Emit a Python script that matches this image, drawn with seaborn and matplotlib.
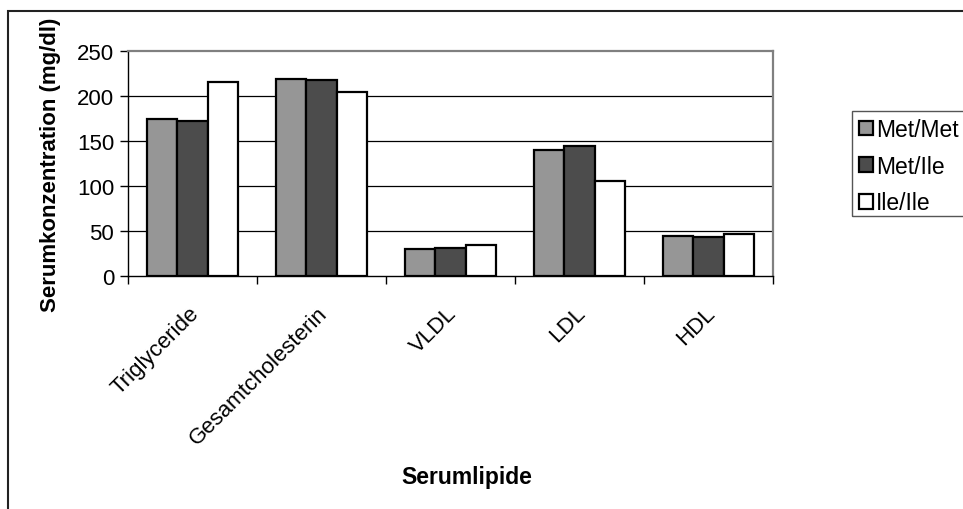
import numpy as np
import pandas as pd
import matplotlib
matplotlib.use("Agg")
import matplotlib.pyplot as plt
import seaborn as sns
from matplotlib.patches import Rectangle
from matplotlib.transforms import ScaledTranslation

# Mean serum lipid concentrations (mg/dl) per genotype
lipide = ["Triglyceride", "Gesamtcholesterin", "VLDL", "LDL", "HDL"]
genotypen = ["Met/Met", "Met/Ile", "Ile/Ile"]
met_met = [175, 219, 30, 140, 45]
met_ile = [172, 218, 31, 144, 43]
ile_ile = [216, 205, 35, 106, 47]
y_ticks = [0, 50, 100, 150, 200, 250]

werte = {"Met/Met": met_met, "Met/Ile": met_ile, "Ile/Ile": ile_ile}
df = pd.DataFrame(
    [(lip, g, werte[g][i]) for g in genotypen for i, lip in enumerate(lipide)],
    columns=["Serumlipide", "Genotyp", "Wert"],
)

sns.set_theme(style="white")
plt.rcParams["font.family"] = ["Liberation Sans", "DejaVu Sans"]
plt.rcParams.update({
    "text.color": "black", "axes.labelcolor": "black",
    "xtick.color": "black", "ytick.color": "black",
})

W, H = 963, 510
fig = plt.figure(figsize=(W / 100, H / 100), dpi=100)
fig.patch.set_facecolor("white")

# plot area in pixel units
left, right, top, bottom = 128, 773, 52, 277
ax = fig.add_axes([left / W, 1 - bottom / H, (right - left) / W, (bottom - top) / H])

sns.barplot(
    data=df, x="Serumlipide", y="Wert", hue="Genotyp",
    order=lipide, hue_order=genotypen,
    palette=["#969696", "#4c4c4c", "#ffffff"], saturation=1,
    width=0.71, gap=0, edgecolor="black", linewidth=1.6,
    errorbar=None, ax=ax,
)

ax.set_xlim(-0.5, len(lipide) - 0.5)
ax.set_ylim(0, 250)
ax.set_yticks(y_ticks)
for y in y_ticks[1:-1]:
    ax.axhline(y, color="black", lw=0.9, zorder=0.5)

for side in ("top", "right"):
    ax.spines[side].set_color("#808080")
    ax.spines[side].set_linewidth(1.6)
for side in ("left", "bottom"):
    ax.spines[side].set_color("black")
    ax.spines[side].set_linewidth(1.0)

ax.tick_params(axis="y", left=True, direction="out", length=6, width=1,
               color="black", labelsize=16, pad=4)
ax.set_xticks(range(len(lipide)))
ax.set_xticklabels(lipide, rotation=45, ha="right", va="center",
                   rotation_mode="anchor")
ax.set_xticks(np.arange(-0.5, len(lipide), 1), minor=True)
ax.tick_params(axis="x", which="major", bottom=True, length=0,
               labelsize=16, pad=24)
ax.tick_params(axis="x", which="minor", bottom=True, direction="out",
               length=6, width=1, color="black")
shift = ScaledTranslation(0.03, 0, fig.dpi_scale_trans)
for lab in ax.get_xticklabels():
    lab.set_transform(lab.get_transform() + shift)

ax.set_ylabel("Serumkonzentration (mg/dl)", fontsize=16, fontweight="bold")
ax.yaxis.set_label_coords(-0.104, 0.5)
ax.set_xlabel("Serumlipide", fontsize=16.5, fontweight="bold")
ax.xaxis.set_label_coords((467 - left) / (right - left), -0.84)

handles, labels = ax.get_legend_handles_labels()
leg = ax.legend(
    handles, labels, loc="upper left",
    bbox_to_anchor=(852 / W, 1 - 112 / H), bbox_transform=fig.transFigure,
    frameon=False, fontsize=16.5, handlelength=0.6, handleheight=0.6,
    handletextpad=0.15, labelspacing=0.6, borderpad=0.3, borderaxespad=0,
)
for p in leg.get_patches():
    p.set_edgecolor("black")
    p.set_linewidth(1.6)

# legend box, running past the right edge of the chart area
fig.patches.append(Rectangle((852 / W, 1 - 217 / H), 140 / W, 105 / H,
                             transform=fig.transFigure, fill=False,
                             edgecolor="#555555", lw=1.0, zorder=0))

# outer chart frame
fig.patches.append(Rectangle((8 / W, -0.2), 1.2, 1 - 12 / H + 0.2,
                             transform=fig.transFigure, fill=False,
                             edgecolor="#222222", lw=1.5))

fig.savefig("out.png", dpi=100)
